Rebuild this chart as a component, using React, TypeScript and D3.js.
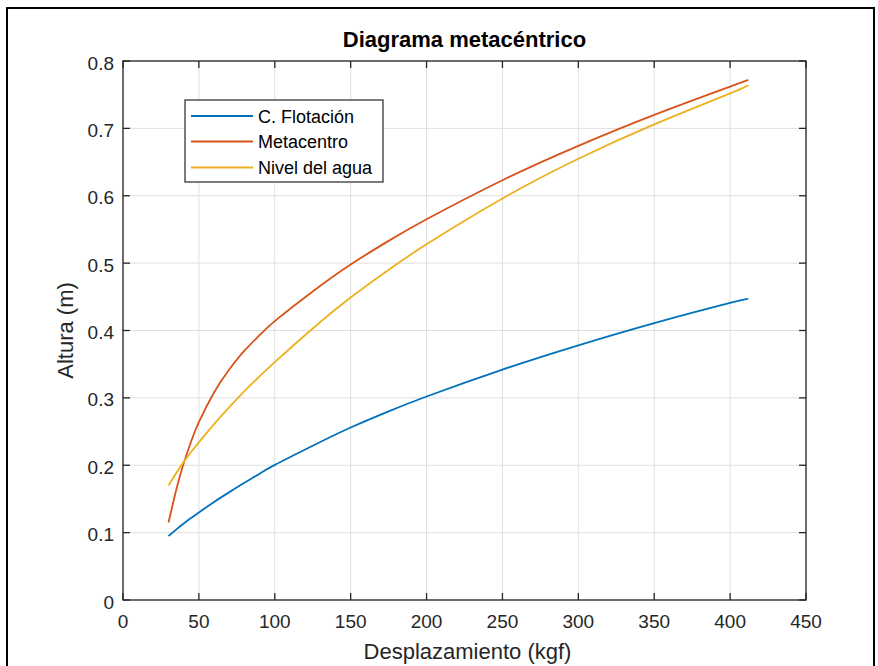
import React from "react";
import * as d3 from "d3";

const displacement = [30, 35, 40, 45, 50, 60, 70, 80, 90, 100, 125, 150, 175, 200, 250, 300, 350, 400, 412];
const flotacion = [0.095, 0.1045, 0.1135, 0.122, 0.130, 0.1455, 0.160, 0.174, 0.1875, 0.2005, 0.229, 0.256, 0.280, 0.302, 0.342, 0.378, 0.411, 0.441, 0.447];
const metacentro = [0.115, 0.163, 0.203, 0.236, 0.264, 0.308, 0.342, 0.370, 0.393, 0.414, 0.458, 0.498, 0.533, 0.565, 0.623, 0.674, 0.720, 0.762, 0.772];
const nivelAgua = [0.170, 0.188, 0.205, 0.220, 0.234, 0.261, 0.286, 0.310, 0.332, 0.353, 0.403, 0.449, 0.490, 0.528, 0.596, 0.655, 0.706, 0.752, 0.764];

const seriesNames = ["C. Flotación", "Metacentro", "Nivel del agua"];
const seriesColors = ["#0072BD", "#D95319", "#EDB120"];

const xTicks = [0, 50, 100, 150, 200, 250, 300, 350, 400, 450];
const yTicks = [0, 0.1, 0.2, 0.3, 0.4, 0.5, 0.6, 0.7, 0.8];
const yTickLabels = ["0", "0.1", "0.2", "0.3", "0.4", "0.5", "0.6", "0.7", "0.8"];

const titleText = "Diagrama metacéntrico";
const xLabel = "Desplazamiento (kgf)";
const yLabel = "Altura (m)";

const W = 878;
const H = 666;
const L = 123, R = 806, T = 61, B = 600;
const FONT = "'Liberation Sans', Arial, Helvetica, sans-serif";
const AX = "#262626";
const GRID = "#dfdfdf";
const TICK = 7;

export default function App() {
  const x = d3.scaleLinear().domain([0, 450]).range([L, R]);
  const y = d3.scaleLinear().domain([0, 0.8]).range([B, T]);
  const allSeries = [flotacion, metacentro, nivelAgua];
  const line = d3
    .line<number>()
    .x((_, i) => x(displacement[i]))
    .y((d) => y(d))
    .curve(d3.curveNatural);

  const legX = 185, legY = 100, legW = 198, legH = 82;
  const rowY = [116, 141.5, 167.5];

  return (
    <div style={{ position: "fixed", left: 0, top: 0, width: W, height: H, background: "#fff" }}>
      <svg width={W} height={H} style={{ display: "block" }} fontFamily={FONT}>
        <rect x={0} y={0} width={W} height={H} fill="#fff" />
        {/* outer frame */}
        <path d={`M7,${H + 2} L7,8 L874,8 L874,${H + 2}`} fill="none" stroke="#000" strokeWidth={2} />
        {/* grid */}
        {xTicks.map((t) => (
          <line key={"gx" + t} x1={x(t)} x2={x(t)} y1={T} y2={B} stroke={GRID} strokeWidth={1} />
        ))}
        {yTicks.map((t) => (
          <line key={"gy" + t} x1={L} x2={R} y1={y(t)} y2={y(t)} stroke={GRID} strokeWidth={1} />
        ))}
        {/* data */}
        {allSeries.map((s, i) => (
          <path key={"s" + i} d={line(s) || ""} fill="none" stroke={seriesColors[i]} strokeWidth={1.8} />
        ))}
        {/* axes box */}
        <rect x={L} y={T} width={R - L} height={B - T} fill="none" stroke={AX} strokeWidth={1.3} />
        {/* ticks */}
        {xTicks.map((t) => (
          <g key={"tx" + t}>
            <line x1={x(t)} x2={x(t)} y1={B} y2={B - TICK} stroke={AX} strokeWidth={1.3} />
            <line x1={x(t)} x2={x(t)} y1={T} y2={T + TICK} stroke={AX} strokeWidth={1.3} />
            <text x={x(t)} y={B + 28} textAnchor="middle" fontSize={19} fill={AX}>
              {t}
            </text>
          </g>
        ))}
        {yTicks.map((t, i) => (
          <g key={"ty" + t}>
            <line x1={L} x2={L + TICK} y1={y(t)} y2={y(t)} stroke={AX} strokeWidth={1.3} />
            <line x1={R} x2={R - TICK} y1={y(t)} y2={y(t)} stroke={AX} strokeWidth={1.3} />
            <text x={L - 9} y={y(t) + 8.5} textAnchor="end" fontSize={19} fill={AX}>
              {yTickLabels[i]}
            </text>
          </g>
        ))}
        {/* title & labels */}
        <text x={(L + R) / 2} y={47} textAnchor="middle" fontSize={22} fontWeight="bold" fill="#000">
          {titleText}
        </text>
        <text x={(L + R) / 2 + 3} y={659} textAnchor="middle" fontSize={22} fill={AX}>
          {xLabel}
        </text>
        <text
          transform={`translate(73,${(T + B) / 2}) rotate(-90)`}
          textAnchor="middle"
          fontSize={22}
          fill={AX}
        >
          {yLabel}
        </text>
        {/* legend */}
        <rect x={legX} y={legY} width={legW} height={legH} fill="#fff" stroke={AX} strokeWidth={1.2} />
        {seriesNames.map((n, i) => (
          <g key={"l" + i}>
            <line x1={191} x2={253} y1={rowY[i]} y2={rowY[i]} stroke={seriesColors[i]} strokeWidth={1.8} />
            <text x={258} y={rowY[i] + 6.5} fontSize={18} fill="#000">
              {n}
            </text>
          </g>
        ))}
      </svg>
    </div>
  );
}
